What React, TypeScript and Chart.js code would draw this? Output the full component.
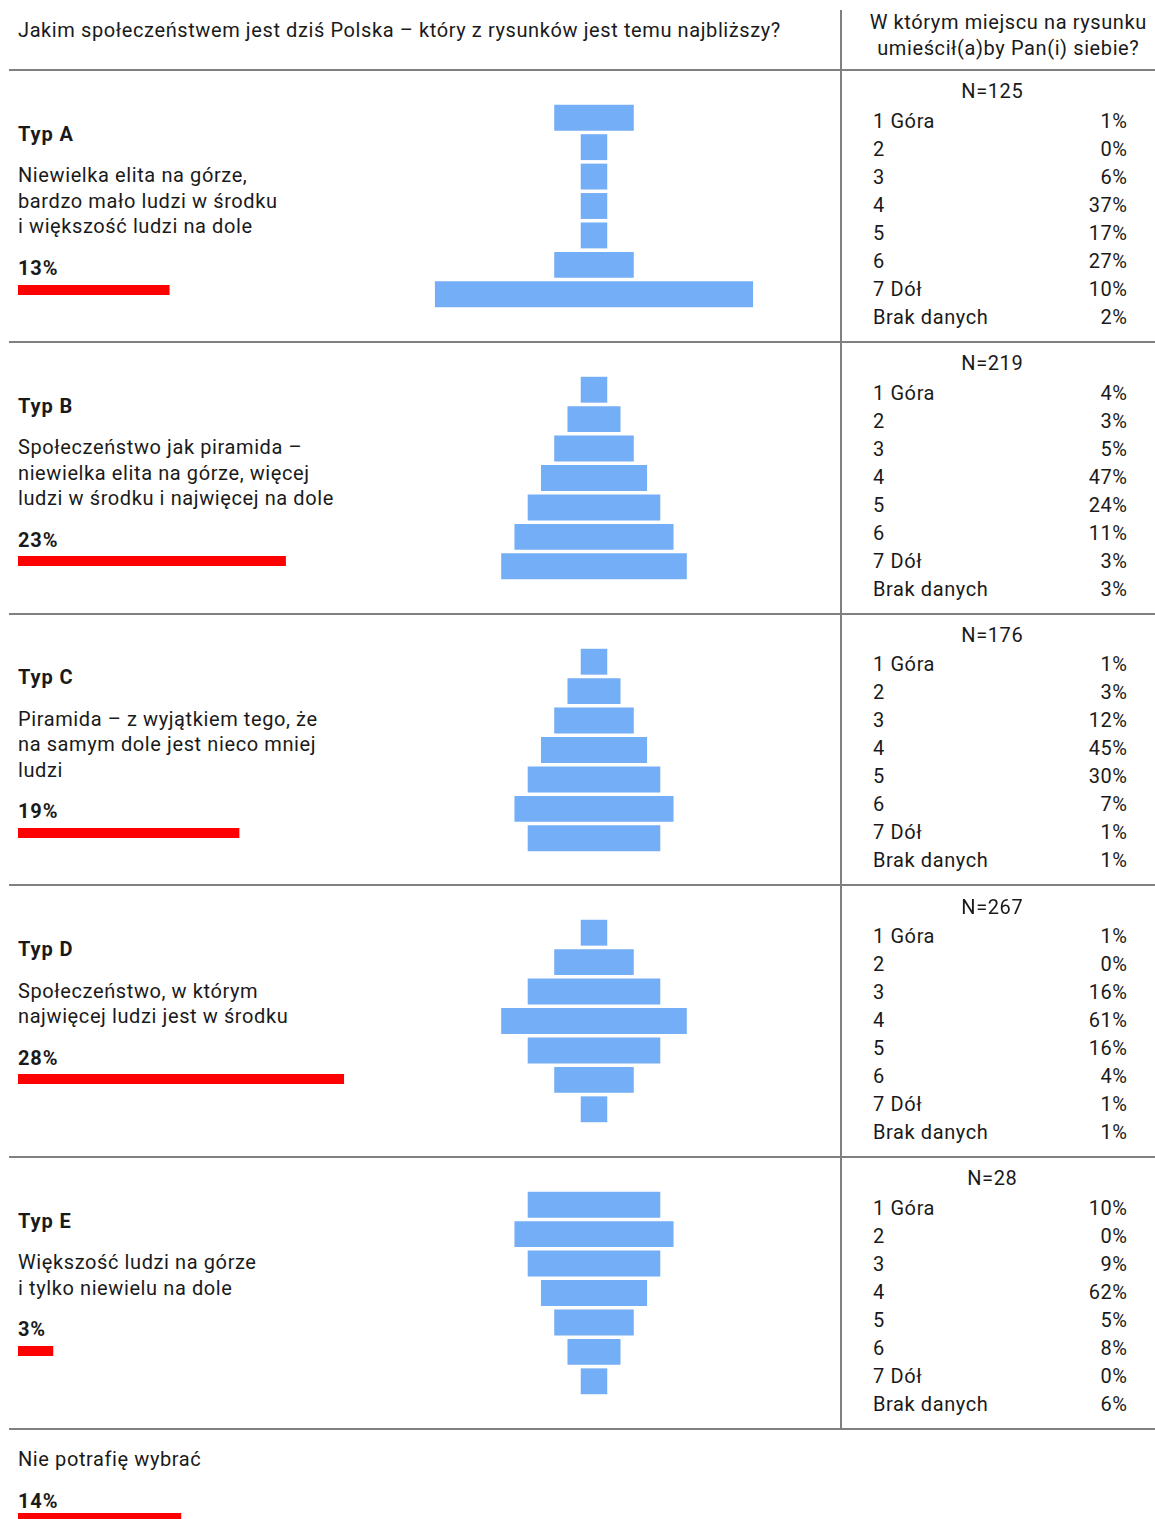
import React, { useEffect, useRef } from "react";
import { Chart, registerables } from "chart.js";

Chart.register(...registerables);

// ---------- data ----------
const typeNames = ["Typ A", "Typ B", "Typ C", "Typ D", "Typ E"];
const typeShares = [13, 23, 19, 28, 3];
const undecidedLabel = "Nie potrafię wybrać";
const undecidedShare = 14;

const typeDescriptions = [
  ["Niewielka elita na górze,", "bardzo mało ludzi w środku", "i większość ludzi na dole"],
  ["Społeczeństwo jak piramida –", "niewielka elita na górze, więcej", "ludzi w środku i najwięcej na dole"],
  ["Piramida – z wyjątkiem tego, że", "na samym dole jest nieco mniej", "ludzi"],
  ["Społeczeństwo, w którym", "najwięcej ludzi jest w środku"],
  ["Większość ludzi na górze", "i tylko niewielu na dole"],
];

// relative width of each level of the drawings (top → bottom)
const levels = ["1", "2", "3", "4", "5", "6", "7"];
const shapeA = [3, 1, 1, 1, 1, 3, 12];
const shapeB = [1, 2, 3, 4, 5, 6, 7];
const shapeC = [1, 2, 3, 4, 5, 6, 5];
const shapeD = [1, 3, 5, 7, 5, 3, 1];
const shapeE = [5, 6, 5, 4, 3, 2, 1];
const shapes = [shapeA, shapeB, shapeC, shapeD, shapeE];

const sampleSizes = [125, 219, 176, 267, 28];
const placeLabels = ["1 Góra", "2", "3", "4", "5", "6", "7 Dół", "Brak danych"];
const placeA = [1, 0, 6, 37, 17, 27, 10, 2];
const placeB = [4, 3, 5, 47, 24, 11, 3, 3];
const placeC = [1, 3, 12, 45, 30, 7, 1, 1];
const placeD = [1, 0, 16, 61, 16, 4, 1, 1];
const placeE = [10, 0, 9, 62, 5, 8, 0, 6];
const places = [placeA, placeB, placeC, placeD, placeE];

const leftHeader = "Jakim społeczeństwem jest dziś Polska – który z rysunków jest temu najbliższy?";
const rightHeader = ["W którym miejscu na rysunku", "umieścił(a)by Pan(i) siebie?"];

// ---------- style ----------
const FONT = "Roboto, 'Noto Sans', sans-serif";
const TEXT = "#1a1a1a";
const BLUE = "#74aef6";
const RED = "#ff0000";
const GRID = "#808080";
const ASC = 16.8; // baseline offset for 20px text with 20px line-height
const LS = 0.6;
const LS_BOLD = 0.9;
const ROW0 = 70;
const ROW_H = 271.8;

type BarProps = {
  labels: string[];
  data: any[];
  min: number;
  max: number;
  color: string;
  width: number;
  height: number;
  barPct: number;
  left: number;
  top: number;
};

function HBar({ labels, data, min, max, color, width, height, barPct, left, top }: BarProps) {
  const ref = useRef<HTMLCanvasElement | null>(null);
  useEffect(() => {
    if (!ref.current) return;
    const chart = new Chart(ref.current, {
      type: "bar",
      data: {
        labels,
        datasets: [
          {
            data,
            backgroundColor: color,
            borderWidth: 0,
            barPercentage: barPct,
            categoryPercentage: 1,
          },
        ],
      },
      options: {
        indexAxis: "y",
        responsive: false,
        maintainAspectRatio: false,
        animation: false,
        devicePixelRatio: 1,
        layout: { padding: 0 },
        plugins: { legend: { display: false }, tooltip: { enabled: false } },
        scales: {
          x: { display: false, min, max },
          y: { display: false },
        },
      },
    } as any);
    return () => chart.destroy();
  }, []);
  return (
    <canvas
      ref={ref}
      width={width}
      height={height}
      style={{ position: "absolute", left, top, width, height }}
    />
  );
}

function T({
  x,
  baseline,
  children,
  bold,
  align,
}: {
  x: number;
  baseline: number;
  children: any;
  bold?: boolean;
  align?: "left" | "center" | "right";
}) {
  const a = align || "left";
  const ls = bold ? LS_BOLD : LS;
  const style: any = {
    position: "absolute",
    top: baseline - ASC,
    fontFamily: FONT,
    fontSize: 20,
    lineHeight: "20px",
    fontWeight: bold ? 700 : 400,
    letterSpacing: ls + "px",
    color: TEXT,
    whiteSpace: "nowrap",
  };
  if (a === "left") style.left = x;
  else if (a === "right") style.right = 1155 - x - ls;
  else {
    style.left = x - 300 + ls / 2;
    style.width = 600;
    style.textAlign = "center";
  }
  return <div style={style}>{children}</div>;
}

function HLine({ y }: { y: number }) {
  return (
    <div style={{ position: "absolute", left: 9, top: y - 1, width: 1146, height: 2, background: GRID }} />
  );
}

const PCT_MAX = 30;
const PCT_W = 349;

export default function App() {
  useEffect(() => {
    document.body.style.margin = "0";
    document.body.style.overflow = "hidden";
  }, []);

  const rows = typeNames.map((name, i) => {
    const rt = ROW0 + i * ROW_H;
    const desc = typeDescriptions[i];
    const d0 = rt + 112;
    const pctBase = d0 + (desc.length - 1) * 25.5 + 41.5;
    const shape = shapes[i];
    return (
      <React.Fragment key={name}>
        <T x={18} baseline={rt + 70.5} bold>
          {name}
        </T>
        {desc.map((line, k) => (
          <T key={k} x={18} baseline={d0 + k * 25.5}>
            {line}
          </T>
        ))}
        <T x={18} baseline={pctBase} bold>
          {typeShares[i] + "%"}
        </T>
        <HBar
          labels={["share"]}
          data={[typeShares[i]]}
          min={0}
          max={PCT_MAX}
          color={RED}
          width={PCT_W}
          height={10}
          barPct={1}
          left={18}
          top={Math.round(pctBase + 10)}
        />
        <HBar
          labels={levels}
          data={shape.map((w) => [-w / 2, w / 2])}
          min={-6.6}
          max={6.6}
          color={BLUE}
          width={350}
          height={206}
          barPct={0.88}
          left={419}
          top={Math.round(rt + 33)}
        />
        <T x={992} baseline={rt + 28} align="center">
          {"N=" + sampleSizes[i]}
        </T>
        {placeLabels.map((lab, k) => (
          <React.Fragment key={lab}>
            <T x={873} baseline={rt + 57.5 + k * 28}>
              {lab}
            </T>
            <T x={1127} baseline={rt + 57.5 + k * 28} align="right">
              {places[i][k] + "%"}
            </T>
          </React.Fragment>
        ))}
        <HLine y={Math.round(rt + ROW_H)} />
      </React.Fragment>
    );
  });

  return (
    <div
      style={{
        position: "relative",
        width: 1155,
        height: 1519,
        overflow: "hidden",
        background: "#ffffff",
      }}
    >
      <T x={18} baseline={37}>
        {leftHeader}
      </T>
      <T x={1008} baseline={29} align="center">
        {rightHeader[0]}
      </T>
      <T x={1008} baseline={55} align="center">
        {rightHeader[1]}
      </T>
      <HLine y={ROW0} />
      <div style={{ position: "absolute", left: 840, top: 10, width: 2, height: 1419, background: GRID }} />
      {rows}
      <T x={18} baseline={1465.7}>
        {undecidedLabel}
      </T>
      <T x={18} baseline={1507.3} bold>
        {undecidedShare + "%"}
      </T>
      <HBar
        labels={["share"]}
        data={[undecidedShare]}
        min={0}
        max={PCT_MAX}
        color={RED}
        width={PCT_W}
        height={10}
        barPct={1}
        left={18}
        top={1513}
      />
    </div>
  );
}
